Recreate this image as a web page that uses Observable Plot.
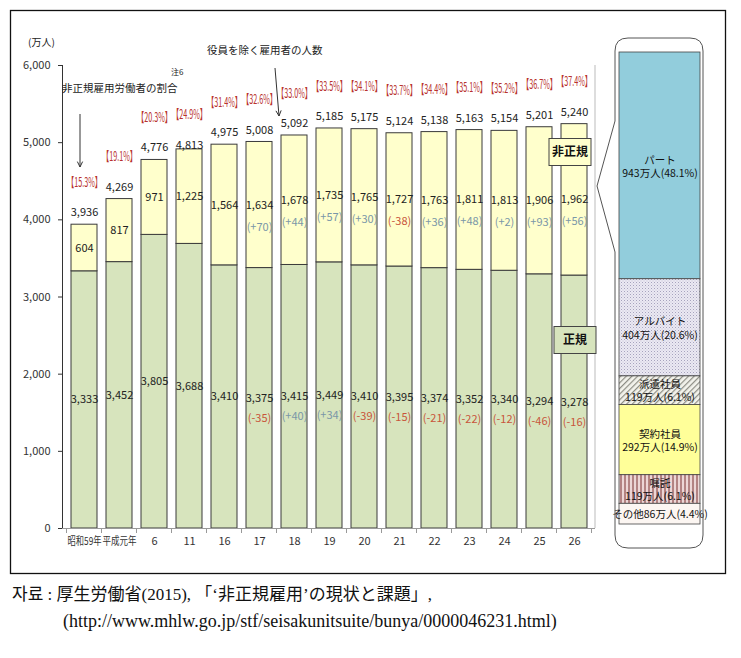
<!DOCTYPE html>
<html><head><meta charset="utf-8">
<script src="https://cdn.jsdelivr.net/npm/d3@7"></script>
<script src="https://cdn.jsdelivr.net/npm/@observablehq/plot@0.6"></script>
<style>
html,body{margin:0;padding:0;background:#fff;}
#wrap{position:relative;width:741px;height:658px;font-family:"Noto Sans CJK JP","Noto Sans CJK KR",sans-serif;}
#wrap > *{position:absolute;}
.cap{font-family:"Liberation Serif","Noto Sans CJK JP","Noto Sans CJK KR",serif;font-size:17px;color:#111;white-space:nowrap;line-height:1;}
</style></head><body><div id="wrap"></div>
<script>
// ---- data ----
const years = ["昭和59年","平成元年","6","11","16","17","18","19","20","21","22","23","24","25","26"];
const totals = [3936,4269,4776,4813,4975,5008,5092,5185,5175,5124,5138,5163,5154,5201,5240];
const nonRegular = [604,817,971,1225,1564,1634,1678,1735,1765,1727,1763,1811,1813,1906,1962];
const regular = [3333,3452,3805,3688,3410,3375,3415,3449,3410,3395,3374,3352,3340,3294,3278];
const nonRegularShare = [15.3,19.1,20.3,24.9,31.4,32.6,33.0,33.5,34.1,33.7,34.4,35.1,35.2,36.7,37.4];
const nonRegularChange = [null,null,null,null,null,70,44,57,30,-38,36,48,2,93,56];
const regularChange = [null,null,null,null,null,-35,40,34,-39,-15,-21,-22,-12,-46,-16];
const yTicks = [0,1000,2000,3000,4000,5000,6000];
const breakdownNames = ["パート","アルバイト","派遣社員","契約社員","嘱託","その他"];
const breakdownValues = [943,404,119,292,119,86];
const breakdownPct = [48.1,20.6,6.1,14.9,6.1,4.4];
const breakdownFills = ["#92cddc","url(#pArb)","url(#pHaken)","#ffff99","url(#pShoku)","#fcf6f2"];

const rows = years.map((year,i)=>({year,total:totals[i],nonRegular:nonRegular[i],regular:regular[i],
  share:nonRegularShare[i],nrc:nonRegularChange[i],rc:regularChange[i]}));
const parts = breakdownNames.map((name,i)=>({name,value:breakdownValues[i],pct:breakdownPct[i]}));

const fmt = d3.format(",");
const sgn = v => v > 0 ? `(+${v})` : `(-${Math.abs(v)})`;
const font = '"Noto Sans CJK JP","Noto Sans CJK KR",sans-serif';
const POS = "#7a97a8", NEG = "#c8553a", RED = "#b8322e";
const nrMid = d => d.regular + d.nonRegular/2;
const rMid = d => d.regular/2;

const wrap = document.getElementById("wrap");

const main = Plot.plot({
  width: 600, height: 580,
  marginLeft: 62, marginRight: 5, marginTop: 65, marginBottom: 52,
  style: {fontFamily: font, fontSize: "11px", color: "#333", background: "transparent", overflow: "visible"},
  x: {type: "band", domain: years, paddingInner: 0.27, paddingOuter: 0.135, label: null, tickSize: 0, tickPadding: 9},
  y: {domain: [0, 6000], ticks: yTicks, tickFormat: fmt, tickSize: 4, tickPadding: 8, label: null, line: true},
  marks: [
    Plot.barY(rows, {x: "year", y1: 0, y2: "regular", fill: "#d7e4bd", stroke: "#3a3a3a", strokeWidth: 1}),
    Plot.barY(rows, {x: "year", y1: "regular", y2: d => d.regular + d.nonRegular, fill: "#ffffcc", stroke: "#3a3a3a", strokeWidth: 1}),
    Plot.ruleY([0], {stroke: "#999"}),
    Plot.text(rows, {x: "year", y: "total", text: d => fmt(d.total), dy: -12, fill: "#222"}),
    Plot.text(rows, {x: "year", y: "total", text: d => `【${d.share.toFixed(1)}%】`, dy: -42, fill: RED, fontSize: 13, ariaDescription: "share"}),
    Plot.text(rows, {x: "year", y: nrMid, text: d => fmt(d.nonRegular), fill: "#222"}),
    Plot.text(rows.filter(d => d.nrc != null && d.nrc > 0), {x: "year", y: nrMid, dy: 22, text: d => sgn(d.nrc), fill: POS}),
    Plot.text(rows.filter(d => d.nrc != null && d.nrc < 0), {x: "year", y: nrMid, dy: 22, text: d => sgn(d.nrc), fill: NEG}),
    Plot.text(rows, {x: "year", y: rMid, text: d => fmt(d.regular), fill: "#222"}),
    Plot.text(rows.filter(d => d.rc != null && d.rc > 0), {x: "year", y: rMid, dy: 20, text: d => sgn(d.rc), fill: POS}),
    Plot.text(rows.filter(d => d.rc != null && d.rc < 0), {x: "year", y: rMid, dy: 20, text: d => sgn(d.rc), fill: NEG})
  ]
});
main.style.left = "0px"; main.style.top = "0px";
d3.select(main).selectAll('g[aria-description="share"] text').attr("textLength", 35).attr("lengthAdjust", "spacingAndGlyphs");
d3.select(main).selectAll('g[aria-label="x-axis tick label"] text, g[aria-label="x-axis"] text')
  .filter(function() { return this.textContent.length > 2; })
  .attr("textLength", 34).attr("lengthAdjust", "spacingAndGlyphs");
wrap.appendChild(main);

const side = Plot.plot({
  width: 141, height: 580,
  marginLeft: 19, marginRight: 41, marginTop: 52, marginBottom: 56,
  style: {fontFamily: font, fontSize: "10.5px", color: "#222", background: "transparent", overflow: "visible"},
  x: {type: "band", domain: ["内訳"], padding: 0, axis: null},
  y: {domain: [0, d3.sum(breakdownValues)], axis: null},
  color: {type: "ordinal", domain: breakdownNames, range: breakdownFills},
  marks: [
    Plot.barY(parts, {x: () => "内訳", y: "value", fill: "name", stroke: "#444", strokeWidth: 0.8, reverse: true}),
    Plot.text(parts, Plot.stackY({x: () => "内訳", y: "value", reverse: true, lineHeight: 1.25, fill: "#111",
      text: d => d.name === "その他" ? `${d.name}${d.value}万人(${d.pct}%)` : `${d.name}\n${d.value}万人(${d.pct}%)`}))
  ]
});
side.insertAdjacentHTML("afterbegin", `<defs>
<pattern id="pArb" width="3" height="3" patternUnits="userSpaceOnUse"><rect width="3" height="3" fill="#ebe9f3"/><rect width="1" height="1" fill="#a6a3bd"/><rect x="1.5" y="1.5" width="1" height="1" fill="#c4c1d6"/></pattern>
<pattern id="pHaken" width="4" height="4" patternUnits="userSpaceOnUse" patternTransform="rotate(45)"><rect width="4" height="4" fill="#f3f3ec"/><rect width="1.2" height="4" fill="#8d8d84"/></pattern>
<pattern id="pShoku" width="4" height="4" patternUnits="userSpaceOnUse"><rect width="4" height="4" fill="#ecd6d6"/><rect width="2" height="4" fill="#b38383"/></pattern>
</defs>`);
side.style.left = "600px"; side.style.top = "0px";
wrap.appendChild(side);

// ---- decorations / annotations ----
const xs = main.scale("x");
const step = xs.step, bw = xs.bandwidth;
const x0 = xs.apply(years[0]) - (step - bw) / 2;
const yBase = main.scale("y").apply(0), yTop = main.scale("y").apply(6000);
const xLast = xs.apply(years[years.length - 1]) + bw / 2;

const ov = d3.create("svg").attr("width", 741).attr("height", 658)
  .style("left", "0px").style("top", "0px").style("pointer-events", "none")
  .style("font-family", font);
ov.append("rect").attr("x", 10.5).attr("y", 10.5).attr("width", 715).attr("height", 563)
  .attr("fill", "none").attr("stroke", "#111").attr("stroke-width", 1.3);
ov.append("line").attr("x1", 595).attr("x2", 595).attr("y1", yTop).attr("y2", yBase).attr("stroke", "#bbb");
for (let i = 0; i <= years.length; i++) {
  const x = x0 + i * step;
  ov.append("line").attr("x1", x).attr("x2", x).attr("y1", yBase).attr("y2", yBase + 5).attr("stroke", "#999");
}
// callout capsule
ov.append("path").attr("d", "M628,38 H690 Q703,38 703,51 V535 Q703,548 690,548 H628 Q615,548 615,535 V252 L597,186 L615,121 V51 Q615,38 628,38 Z")
  .attr("fill", "none").attr("stroke", "#555").attr("stroke-width", 1);

const txt = (x, y, s, size, opts = {}) => ov.append("text").attr("x", x).attr("y", y).attr("dy", "0.35em")
  .attr("font-size", size).attr("fill", opts.fill || "#222").attr("text-anchor", opts.anchor || "start")
  .attr("font-weight", opts.weight || "normal").text(s);
txt(28, 42, "(万人)", 10);
txt(62, 88, "非正規雇用労働者の割合", 10.5);
txt(171, 72, "注6", 8);
txt(207, 50, "役員を除く雇用者の人数", 10.5);
// arrows
const arrow = (xa, ya, xb, yb) => {
  ov.append("line").attr("x1", xa).attr("y1", ya).attr("x2", xb).attr("y2", yb).attr("stroke", "#333").attr("stroke-width", 1);
  const a = Math.atan2(yb - ya, xb - xa), L = 6, s = 0.45;
  ov.append("polyline").attr("points", `${xb - L*Math.cos(a - s)},${yb - L*Math.sin(a - s)} ${xb},${yb} ${xb - L*Math.cos(a + s)},${yb - L*Math.sin(a + s)}`)
    .attr("fill", "none").attr("stroke", "#333").attr("stroke-width", 1);
};
arrow(80, 114, 80, 167);
arrow(275, 68, 279, 116);
// series label boxes
const box = (cx, cy, w, h, s, fill) => {
  ov.append("rect").attr("x", cx - w/2).attr("y", cy - h/2).attr("width", w).attr("height", h)
    .attr("fill", fill).attr("stroke", "#444").attr("stroke-width", 1);
  txt(cx, cy, s, 12, {anchor: "middle", weight: "bold", fill: "#111"});
};
box(xLast - 4, 152, 42, 27, "非正規", "#ffffcc");
box(xLast + 1, 340, 42, 27, "正規", "#d7e4bd");
wrap.appendChild(ov.node());

// caption
const c1 = document.createElement("div"); c1.className = "cap";
c1.style.left = "12px"; c1.style.top = "586px";
c1.textContent = "자료 : 厚生労働省(2015), 「‘非正規雇用’の現状と課題」,";
wrap.appendChild(c1);
const c2 = document.createElement("div"); c2.className = "cap";
c2.style.left = "63px"; c2.style.top = "612px"; c2.style.fontSize = "18px";
c2.textContent = "(http://www.mhlw.go.jp/stf/seisakunitsuite/bunya/0000046231.html)";
wrap.appendChild(c2);
</script></body></html>
